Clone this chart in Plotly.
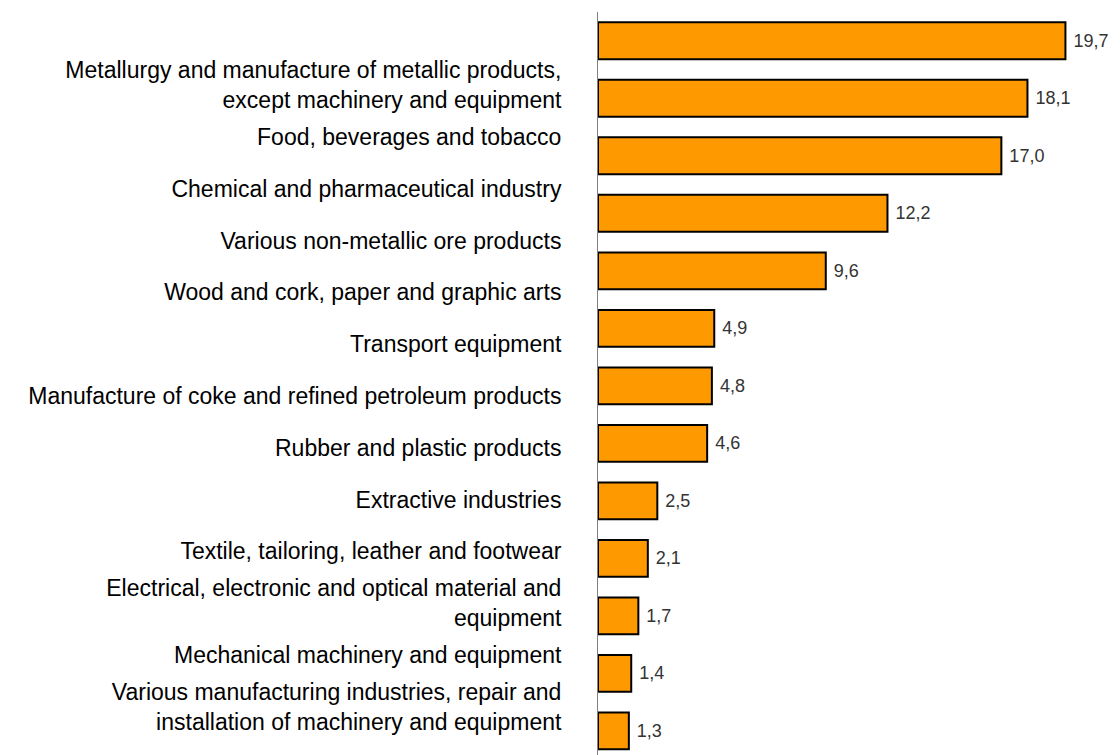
import plotly.graph_objects as go

categories = [
    "Metallurgy and manufacture of metallic products,<br>except machinery and equipment",
    "Food, beverages and tobacco",
    "Chemical and pharmaceutical industry",
    "Various non-metallic ore products",
    "Wood and cork, paper and graphic arts",
    "Transport equipment",
    "Manufacture of coke and refined petroleum products",
    "Rubber and plastic products",
    "Extractive industries",
    "Textile, tailoring, leather and footwear",
    "Electrical, electronic and optical material and<br>equipment",
    "Mechanical machinery and equipment",
    "Various manufacturing industries, repair and<br>installation of machinery and equipment",
]
values = [19.7, 18.1, 17.0, 12.2, 9.6, 4.9, 4.8, 4.6, 2.5, 2.1, 1.7, 1.4, 1.3]

idx = list(range(len(values)))
value_text = [" " + f"{v:.1f}".replace(".", ",") for v in values]

fig = go.Figure()
fig.add_trace(go.Bar(
    x=values, y=idx, orientation="h",
    marker=dict(color="#FF9900", line=dict(color="#000000", width=2)),
    width=0.64,
    text=value_text, textposition="outside", cliponaxis=False,
    textfont=dict(family="Liberation Sans, Arial", size=18, color="#333333"),
    hoverinfo="skip", showlegend=False,
))
fig.add_trace(go.Scatter(
    x=[0] * len(idx), y=idx, yaxis="y2", mode="markers",
    marker=dict(opacity=0), hoverinfo="skip", showlegend=False,
))

fig.update_layout(
    width=1120, height=755,
    margin=dict(l=598, r=0, t=12, b=0),
    paper_bgcolor="white", plot_bgcolor="white",
    xaxis=dict(range=[0, 22.0], showgrid=False, zeroline=False, showticklabels=False,
               showline=False, ticks=""),
    yaxis=dict(range=[12.42, -0.5], showgrid=False, zeroline=False, showticklabels=False,
               showline=True, linecolor="#808080", linewidth=1, ticks=""),
    yaxis2=dict(overlaying="y", side="left", range=[12.93, -1.41],
                tickvals=idx, ticktext=categories,
                showgrid=False, zeroline=False, showline=False,
                ticks="outside", ticklen=31, tickcolor="rgba(0,0,0,0)",
                tickfont=dict(family="Liberation Sans, Arial", size=23, color="#000000")),
)

fig.write_html("out.html")
